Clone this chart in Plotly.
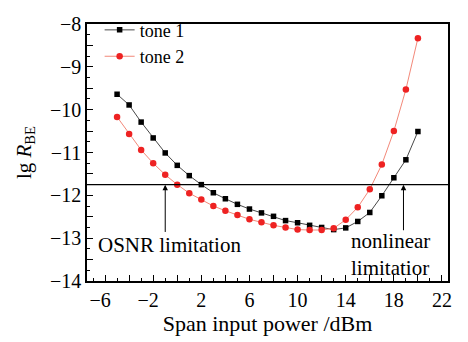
import plotly.graph_objects as go

# ---- data ----
power_dbm = [-5, -4, -3, -2, -1, 0, 1, 2, 3, 4, 5, 6, 7, 8, 9, 10, 11, 12, 13, 14, 15, 16, 17, 18, 19, 20]
tone1 = [-9.64, -9.89, -10.29, -10.66, -11.01, -11.30, -11.54, -11.75, -11.94, -12.08, -12.21, -12.32, -12.41,
         -12.49, -12.59, -12.64, -12.70, -12.75, -12.80, -12.76, -12.61, -12.40, -12.01, -11.59, -11.17, -10.51]
tone2 = [-10.17, -10.57, -10.94, -11.25, -11.52, -11.75, -11.95, -12.10, -12.25, -12.36, -12.46, -12.56, -12.63,
         -12.70, -12.75, -12.80, -12.81, -12.81, -12.77, -12.57, -12.28, -11.86, -11.28, -10.50, -9.53, -8.33]
threshold = -11.75
arrow_x = [-1, 18.8]
arrow_tail_y = [-12.89, -12.85]
x_tick_labels = ["−6\u2002", "−2\u2002", "2", "6", "10", "14", "18", "22"]
x_tick_label_vals = [-6, -2, 2, 6, 10, 14, 18, 22]
y_tick_label_vals = [-14, -13, -12, -11, -10, -9, -8]

FONT = "'Liberation Serif', 'Times New Roman', Times, serif"

fig = go.Figure()
fig.add_trace(go.Scatter(x=power_dbm, y=tone1, mode="lines+markers", name="tone 1",
                         line=dict(color="#333333", width=0.9),
                         marker=dict(symbol="square", size=5.5, color="black")))
fig.add_trace(go.Scatter(x=power_dbm, y=tone2, mode="lines+markers", name="tone 2",
                         line=dict(color="#f07a6a", width=0.9),
                         marker=dict(symbol="circle", size=6.5, color="#ee2222")))

# threshold line
fig.add_shape(type="line", xref="paper", x0=0, x1=1, yref="y", y0=threshold, y1=threshold,
              line=dict(color="black", width=1.2))

# arrows
for ax_, ay_ in zip(arrow_x, arrow_tail_y):
    fig.add_annotation(x=ax_, y=threshold, ax=ax_, ay=ay_, axref="x", ayref="y", xref="x", yref="y",
                       showarrow=True, arrowhead=2, arrowsize=1.1, arrowwidth=1, arrowcolor="black", text="")

fig.add_annotation(x=-6.75, y=-13.15, xref="x", yref="y", text="OSNR limitation", showarrow=False,
                   xanchor="left", yanchor="middle", font=dict(family=FONT, size=21, color="black"))
fig.add_annotation(x=14.25, y=-13.38, xref="x", yref="y", text="nonlinear<br>limitatior", showarrow=False,
                   xanchor="left", yanchor="middle", align="left",
                   font=dict(family=FONT, size=21, color="black"))

# x ticks: majors every 2, labels every 4
x_major = list(range(-6, 23, 2))
x_text = [x_tick_labels[x_tick_label_vals.index(v)] if v in x_tick_label_vals else "" for v in x_major]
y_major = [-14 + 0.5 * i for i in range(13)]
y_text = [("−%d" % abs(int(v))) if v in y_tick_label_vals else "" for v in y_major]

fig.update_xaxes(range=[-7.5, 22.5], tickmode="array", tickvals=x_major, ticktext=x_text,
                 ticks="inside", ticklen=6, tickwidth=1.2, tickcolor="black",
                 minor=dict(dtick=1, tick0=0, ticks="inside", ticklen=3, tickwidth=1, tickcolor="black"),
                 showline=True, linecolor="black", linewidth=1.5, mirror=True, showgrid=False, zeroline=False,
                 tickfont=dict(family=FONT, size=20, color="black"),
                 title=dict(text="Span input power /dBm", font=dict(family=FONT, size=22, color="black"), standoff=4))
fig.update_yaxes(range=[-14, -8], tickmode="array", tickvals=y_major, ticktext=y_text,
                 ticks="inside", ticklen=6, tickwidth=1.2, tickcolor="black",
                 minor=dict(dtick=0.25, tick0=0, ticks="inside", ticklen=3, tickwidth=1, tickcolor="black"),
                 showline=True, linecolor="black", linewidth=1.5, mirror=True, showgrid=False, zeroline=False,
                 tickfont=dict(family=FONT, size=20, color="black"),
                 title=dict(text="lg <i>R</i><sub>BE</sub>", font=dict(family=FONT, size=21, color="black"), standoff=13))

fig.update_layout(width=468, height=342, margin=dict(l=87, r=20, t=14, b=53),
                  paper_bgcolor="white", plot_bgcolor="white",
                  showlegend=True,
                  legend=dict(x=0.035, y=1.048, xanchor="left", yanchor="top", bgcolor="rgba(0,0,0,0)",
                              font=dict(family=FONT, size=18, color="black"), itemwidth=30,
                              tracegroupgap=0))

fig.write_html("out.html")
